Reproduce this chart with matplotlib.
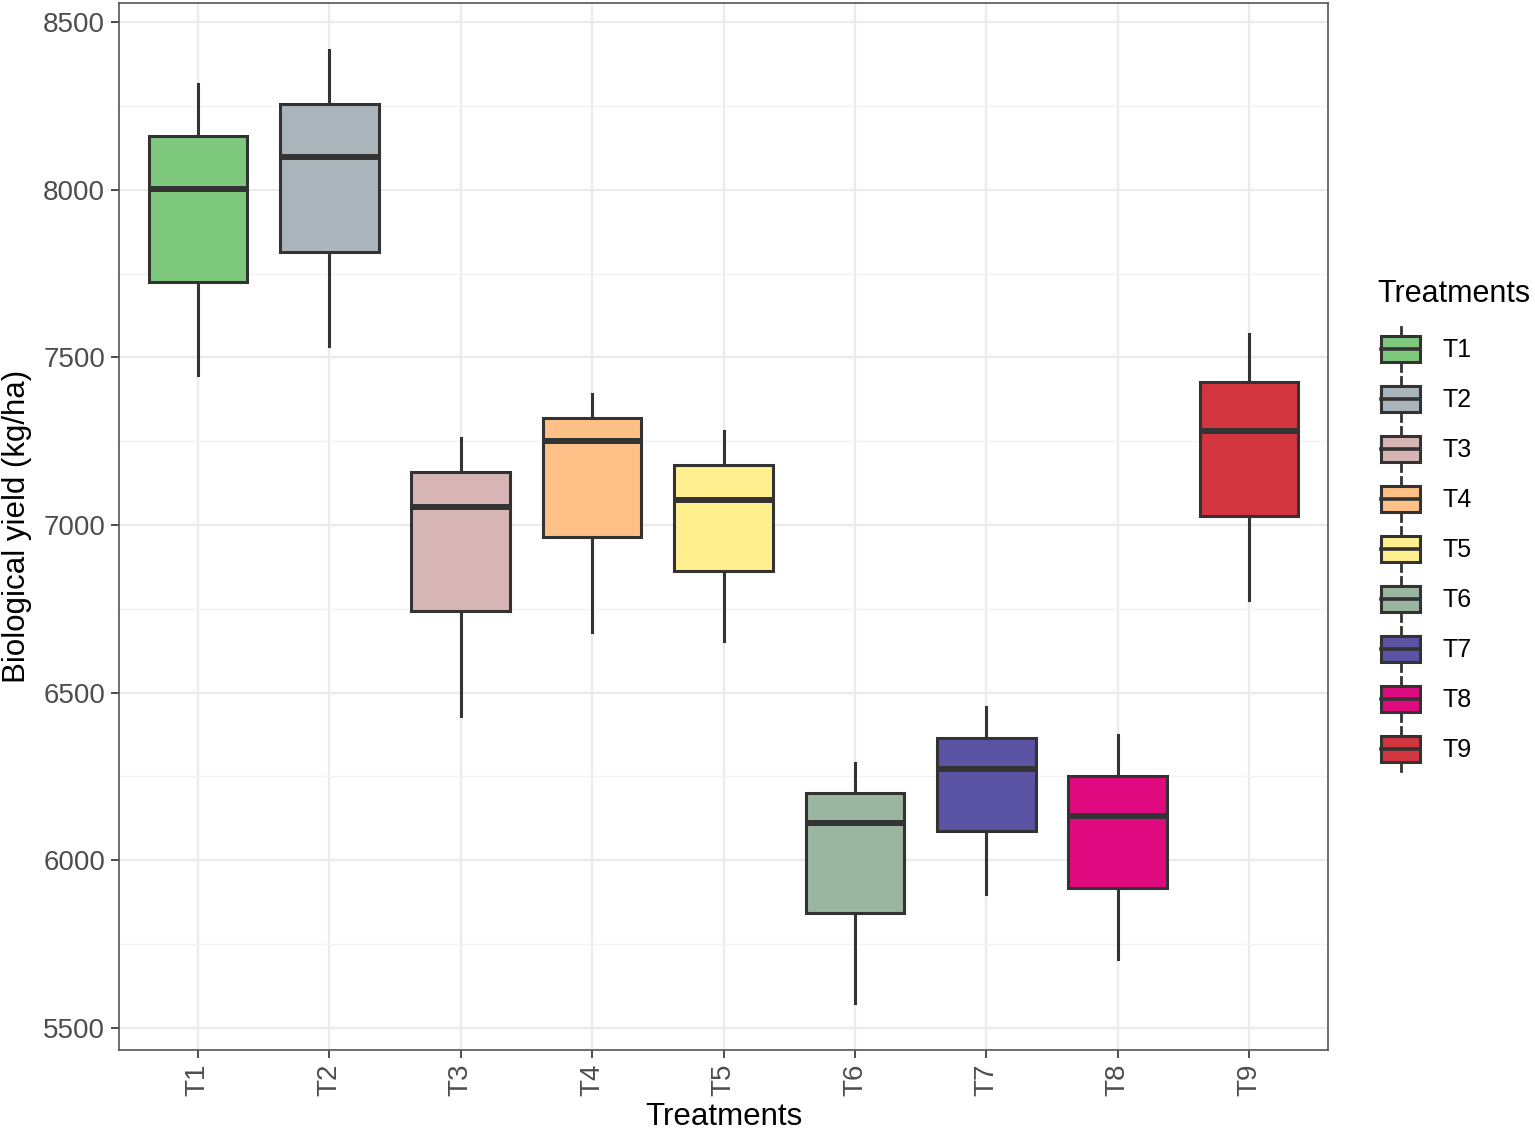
import matplotlib
matplotlib.use("Agg")
import matplotlib.pyplot as plt
from matplotlib.legend_handler import HandlerBase
from matplotlib.patches import Rectangle, Patch
from matplotlib.lines import Line2D
from matplotlib.ticker import MultipleLocator

plt.rcParams['font.family'] = ['Liberation Sans', 'DejaVu Sans']

treatments = ["T1", "T2", "T3", "T4", "T5", "T6", "T7", "T8", "T9"]
whisker_low = [7447, 7534, 6430, 6681, 6654, 5575, 5900, 5706, 6776]
q1 = [7725, 7814, 6744, 6964, 6863, 5843, 6088, 5918, 7027]
median = [8002, 8097, 7054, 7251, 7075, 6111, 6272, 6132, 7280]
q3 = [8160, 8255, 7158, 7319, 7179, 6201, 6365, 6252, 7426]
whisker_high = [8315, 8416, 7259, 7391, 7280, 6290, 6457, 6374, 7570]
colors = ["#7FC97F", "#AAB5BB", "#D7B5B5", "#FDC086", "#FFEF8F",
          "#9AB5A0", "#5B53A4", "#DF0A80", "#D2353E"]

edge = "#333333"

fig = plt.figure(figsize=(15.35, 11.33), dpi=100)
ax = fig.add_axes([119/1535, 1 - 1050/1133, (1328-119)/1535, (1050-3)/1133])

stats = []
for i, t in enumerate(treatments):
    stats.append(dict(label=t, whislo=whisker_low[i], q1=q1[i], med=median[i],
                      q3=q3[i], whishi=whisker_high[i], fliers=[]))

positions = list(range(1, len(treatments) + 1))
bp = ax.bxp(stats, positions=positions, widths=0.75, patch_artist=True,
            showcaps=False, showfliers=False,
            boxprops=dict(edgecolor=edge, linewidth=2.2),
            medianprops=dict(color=edge, linewidth=4.3, solid_capstyle='butt'),
            whiskerprops=dict(color=edge, linewidth=2.2))
for patch, c in zip(bp['boxes'], colors):
    patch.set_facecolor(c)
    patch.set_zorder(3)
for ln in bp['medians']:
    ln.set_zorder(4)
for ln in bp['whiskers']:
    ln.set_zorder(2)

ax.set_xlim(0.4, 9.6)
ax.set_ylim(5434, 8557)
ax.yaxis.set_major_locator(MultipleLocator(500))
ax.yaxis.set_minor_locator(MultipleLocator(250))
ax.set_xticks(positions)
ax.set_xticklabels(treatments, rotation=90)

ax.grid(True, which='major', color='#EBEBEB', linewidth=1.6, zorder=0)
ax.grid(True, which='minor', axis='y', color='#F2F2F2', linewidth=1.0, zorder=0)
ax.set_axisbelow(True)
for s in ax.spines.values():
    s.set_color('#555555')
    s.set_linewidth(1.2)

ax.tick_params(axis='both', which='major', labelsize=20, colors='#4D4D4D',
               length=6, width=1.4, pad=4)
ax.tick_params(axis='y', which='minor', length=0)
for lbl in ax.get_xticklabels() + ax.get_yticklabels():
    lbl.set_color('#4D4D4D')

ax.set_xlabel("Treatments", fontsize=22.5, color='black', labelpad=4)
ax.set_ylabel("Biological yield (kg/ha)", fontsize=22.5, color='black', labelpad=8)


class BoxHandler(HandlerBase):
    def create_artists(self, legend, orig_handle, xdescent, ydescent,
                       width, height, fontsize, trans):
        fc = orig_handle.get_facecolor()
        x0, y0 = -xdescent, -ydescent
        bh = height * 0.6
        by = y0 + (height - bh) / 2
        cx = x0 + width / 2
        wl = Line2D([cx, cx], [y0, y0 + height], color=edge, lw=2.0,
                    transform=trans)
        r = Rectangle((x0, by), width, bh, facecolor=fc, edgecolor=edge,
                      lw=2.2, transform=trans)
        m = Line2D([x0, x0 + width], [y0 + height / 2, y0 + height / 2],
                   color=edge, lw=2.6, transform=trans)
        return [wl, r, m]


fig.text(1377/1535, 1 - 294/1133, "Treatments", fontsize=22,
         ha='left', va='center', color='black')

handles = [Patch(facecolor=c) for c in colors]
leg = fig.legend(handles, treatments, handler_map={Patch: BoxHandler()},
                 loc='upper left', bbox_to_anchor=(1381/1535, 1 - 327/1133),
                 frameon=False, fontsize=18, handlelength=1.56,
                 handleheight=2.33, labelspacing=0.24, handletextpad=0.9,
                 borderpad=0, borderaxespad=0)

fig.savefig("out.png", dpi=100)
